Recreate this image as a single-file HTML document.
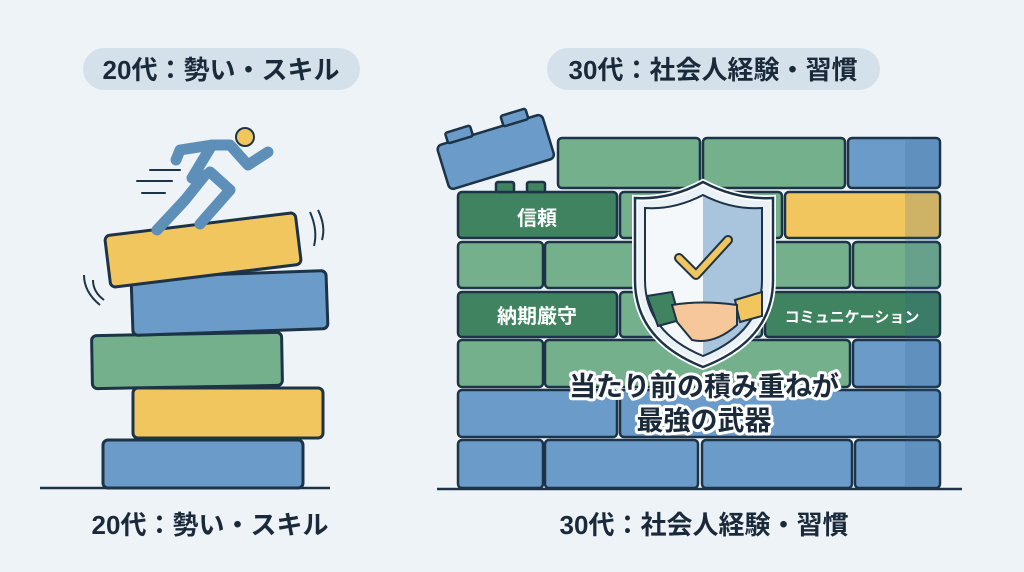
<!DOCTYPE html>
<html><head><meta charset="utf-8"><style>
html,body{margin:0;padding:0;background:#eef3f7;}
svg{display:block}
text{font-family:"Liberation Sans","Noto Sans CJK JP",sans-serif;font-weight:700}
</style></head><body>
<svg width="1024" height="572" viewBox="0 0 1024 572" xmlns="http://www.w3.org/2000/svg">
<rect width="1024" height="572" fill="#eef3f7"/>
<rect x="83" y="48" width="277" height="42" rx="21" fill="#d5e1ea"/>
<text x="221" y="79" font-size="26" fill="#1b2a3a" text-anchor="middle">20代：勢い・スキル</text>
<rect x="547" y="48" width="333" height="42" rx="21" fill="#d5e1ea"/>
<text x="713" y="79" font-size="26" fill="#1b2a3a" text-anchor="middle">30代：社会人経験・習慣</text>

<g stroke="#1d3347" stroke-width="3" stroke-linejoin="round">
<rect x="103" y="440" width="200" height="48" rx="5" fill="#6b9bc8"/>
<rect x="133" y="388" width="190" height="50" rx="5" fill="#f2c65e"/>
<rect x="92" y="334" width="190" height="53" rx="5" fill="#74b08c" transform="rotate(-1 187 360)"/>
<rect x="132" y="274" width="195" height="58" rx="5" fill="#6b9bc8" transform="rotate(-2 230 303)"/>
<rect x="107" y="224" width="192" height="52" rx="5" fill="#f2c65e" transform="rotate(-7 203 250)"/>
</g>
<g stroke="#5d8fb8" stroke-width="11" stroke-linecap="round" stroke-linejoin="round" fill="none">
<path d="M192 178 L212 145 L230 145 L248 165 L268 152"/>
<path d="M212 145 L180 150 L176 160"/>
<path d="M205 175 L185 200 L157 230"/>
<path d="M210 172 L230 190 L200 224"/>
</g>
<circle cx="245" cy="137" r="9" fill="#f2c65e" stroke="#1d3347" stroke-width="2"/>
<g stroke="#1d3347" stroke-width="2" stroke-linecap="round">
<line x1="150" y1="170" x2="180" y2="170"/><line x1="137" y1="181" x2="172" y2="181"/><line x1="142" y1="193" x2="165" y2="193"/>
</g>
<path d="M310 212 Q318 230 314 246 M318 210 Q326 226 322 240" stroke="#1d3347" stroke-width="2" fill="none"/>
<path d="M84 275 Q84 292 100 305 M93 280 Q93 292 104 300" stroke="#1d3347" stroke-width="2" fill="none"/>
<line x1="40" y1="488" x2="330" y2="488" stroke="#1d3347" stroke-width="2.5"/>
<text x="210" y="534" font-size="26" fill="#1b2a3a" text-anchor="middle">20代：勢い・スキル</text>

<g stroke="#1d3347" stroke-width="2.5" stroke-linejoin="round">
<rect x="558" y="138" width="142" height="50" rx="4" fill="#74b08c"/>
<rect x="703" y="138" width="142" height="50" rx="4" fill="#74b08c"/>
<rect x="848" y="138" width="92" height="50" rx="4" fill="#6b9bc8"/>
<rect x="458" y="192" width="159" height="46" rx="4" fill="#3f8360"/>
<rect x="620" y="192" width="162" height="46" rx="4" fill="#74b08c"/>
<rect x="785" y="192" width="155" height="46" rx="4" fill="#f2c65e"/>
<rect x="458" y="242" width="85" height="46" rx="4" fill="#74b08c"/>
<rect x="545" y="242" width="155" height="46" rx="4" fill="#74b08c"/>
<rect x="703" y="242" width="147" height="46" rx="4" fill="#74b08c"/>
<rect x="853" y="242" width="87" height="46" rx="4" fill="#74b08c"/>
<rect x="458" y="292" width="159" height="45" rx="4" fill="#3f8360"/>
<rect x="620" y="292" width="142" height="45" rx="4" fill="#74b08c"/>
<rect x="765" y="292" width="175" height="45" rx="4" fill="#3f8360"/>
<rect x="458" y="340" width="85" height="47" rx="4" fill="#74b08c"/>
<rect x="545" y="340" width="305" height="47" rx="4" fill="#74b08c"/>
<rect x="853" y="340" width="87" height="47" rx="4" fill="#6b9bc8"/>
<rect x="458" y="390" width="159" height="47" rx="4" fill="#6b9bc8"/>
<rect x="620" y="390" width="320" height="47" rx="4" fill="#6b9bc8"/>
<rect x="458" y="440" width="85" height="48" rx="4" fill="#6b9bc8"/>
<rect x="545" y="440" width="153" height="48" rx="4" fill="#6b9bc8"/>
<rect x="702" y="440" width="150" height="48" rx="4" fill="#6b9bc8"/>
<rect x="855" y="440" width="85" height="48" rx="4" fill="#6b9bc8"/>
<rect x="496" y="182" width="18" height="10" rx="2" fill="#3f8360"/>
<rect x="527" y="182" width="18" height="10" rx="2" fill="#3f8360"/>
<g transform="rotate(-17 492 150)">
<rect x="440" y="130" width="110" height="46" rx="5" fill="#6b9bc8"/>
<rect x="452" y="120" width="26" height="11" rx="2" fill="#6b9bc8"/>
<rect x="510" y="120" width="26" height="11" rx="2" fill="#6b9bc8"/>
</g>
</g>
<rect x="905" y="140" width="33" height="346" fill="#2d5f8f" opacity="0.18"/>
<line x1="437" y1="489" x2="962" y2="489" stroke="#1d3347" stroke-width="2.5"/>

<text x="537" y="225" font-size="20" fill="#fff" text-anchor="middle">信頼</text>
<text x="537" y="323" font-size="20" fill="#fff" text-anchor="middle">納期厳守</text>
<text x="852" y="322" font-size="15" fill="#fff" text-anchor="middle" font-weight="400">コミュニケーション</text>

<path d="M703 182 Q737 200 773 198 L773 280 Q773 340 703 367 Q635 340 635 280 L635 198 Q670 200 703 182 Z" fill="#eaf1f7" stroke="#fff" stroke-width="6"/>
<path d="M703 182 Q737 200 773 198 L773 280 Q773 340 703 367 Q635 340 635 280 L635 198 Q670 200 703 182 Z" fill="none" stroke="#1d3347" stroke-width="2.5"/>
<path d="M703 195 Q732 210 762 208 L762 280 Q762 332 703 356 Z" fill="#a9c4dd"/>
<path d="M703 195 Q674 210 645 208 L645 280 Q645 332 703 356 Z" fill="#f5f8fb"/>
<path d="M703 195 Q732 210 762 208 L762 280 Q762 332 703 356 Q645 332 645 280 L645 208 Q674 210 703 195 Z" fill="none" stroke="#1d3347" stroke-width="2"/>
<path d="M679 258 L696 275 L728 240" stroke="#1d3347" stroke-width="10" fill="none" stroke-linecap="round" stroke-linejoin="round"/>
<path d="M679 258 L696 275 L728 240" stroke="#f2c65e" stroke-width="6" fill="none" stroke-linecap="round" stroke-linejoin="round"/>
<path d="M647 296 L672 292 L680 320 L658 326 Z" fill="#3f8360" stroke="#1d3347" stroke-width="2"/>
<path d="M762 292 L735 300 L740 322 L762 316 Z" fill="#f2c65e" stroke="#1d3347" stroke-width="2"/>
<path d="M672 305 Q702 300 737 305 L737 325 Q714 345 692 340 L677 322 Z" fill="#f7c79c" stroke="#1d3347" stroke-width="2"/>

<g font-size="27" text-anchor="middle" fill="#1b2a3a" stroke="#fff" stroke-width="6" paint-order="stroke" stroke-linejoin="round">
<text x="704" y="396">当たり前の積み重ねが</text>
<text x="704" y="430">最強の武器</text>
</g>
<text x="704" y="534" font-size="26" fill="#1b2a3a" text-anchor="middle">30代：社会人経験・習慣</text>
</svg>
</body></html>
